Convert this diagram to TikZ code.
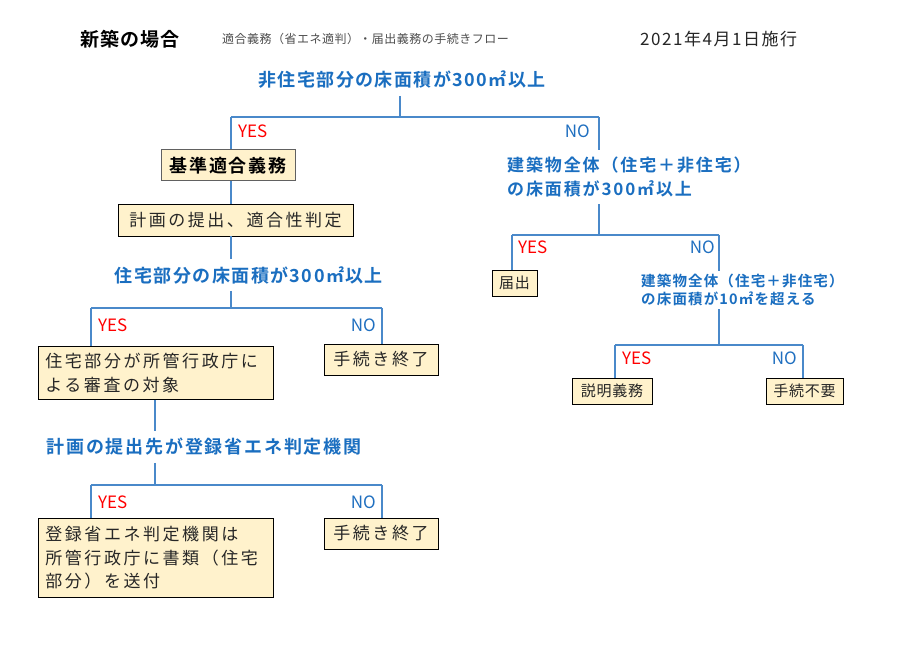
\documentclass[tikz,border=0pt]{standalone}
\usepackage{fontspec}
\setmainfont{Noto Sans CJK JP}[BoldFont={Noto Sans CJK JP Bold}]
\definecolor{lineblue}{HTML}{4A89CA}
\definecolor{headblue}{HTML}{1A6EC0}
\definecolor{noblue}{HTML}{1F6FC0}
\definecolor{boxfill}{HTML}{FFF2CC}
\definecolor{boxtext}{HTML}{262626}
\definecolor{subgray}{HTML}{4D4D4D}
\begin{document}
\begin{tikzpicture}[x=1pt,y=-1pt,
  ln/.style={draw=lineblue, line width=1.1pt},
  head/.style={text=headblue, inner xsep=0pt, inner ysep=7pt,
    font=\fontsize{18}{20}\selectfont\bfseries\addfontfeature{LetterSpace=8}},
  box/.style={draw=black, line width=0.8pt, fill=boxfill, text=boxtext,
    inner xsep=7pt, inner ysep=0pt,
    font=\fontsize{17}{24.5}\selectfont\addfontfeature{LetterSpace=15}},
  sbox/.style={box, inner xsep=5pt,
    font=\fontsize{15}{18}\selectfont\addfontfeature{LetterSpace=5}},
  yes/.style={text=red, inner sep=0pt, font=\fontsize{17}{17}\selectfont},
  no/.style={text=noblue, inner sep=0pt, font=\fontsize{17}{17}\selectfont}]
\fill[white] (0,0) rectangle (900,652);
\useasboundingbox (0,0) rectangle (900,652);

% header
\node[anchor=west, inner sep=0pt, font=\fontsize{19}{19}\selectfont\bfseries\addfontfeature{LetterSpace=6}] (title) at (80,39) {新築の場合};
\node[anchor=west, inner sep=0pt, text=subgray, font=\fontsize{12}{12}\selectfont\addfontfeature{LetterSpace=4}] (sub) at (222,39) {適合義務（省エネ適判）・届出義務の手続きフロー};
\node[anchor=west, inner sep=0pt, text=boxtext, font=\fontsize{17}{17}\selectfont\addfontfeature{LetterSpace=9}] (date) at (640,39) {2021年4月1日施行};

% headings
\node[head] (h1) at (402,80) {非住宅部分の床面積が300㎡以上};
\node[head] (h3) at (249,275) {住宅部分の床面積が300㎡以上};
\node[head, font=\fontsize{18}{20}\selectfont\bfseries\addfontfeature{LetterSpace=10}] (h4) at (204,447) {計画の提出先が登録省エネ判定機関};
\node[head, anchor=west, align=left, font=\fontsize{17}{24}\selectfont\bfseries\addfontfeature{LetterSpace=11}] (h2) at (507,177) {建築物全体（住宅＋非住宅）\\の床面積が300㎡以上};
\node[head, anchor=west, align=left, inner ysep=3pt, font=\fontsize{14.5}{18}\selectfont\bfseries\addfontfeature{LetterSpace=8}] (h5) at (641,290) {建築物全体（住宅＋非住宅）\\の床面積が10㎡を超える};

% boxes
\node[box, draw=black!62, line width=1pt, minimum width=134pt, minimum height=31pt,
  font=\fontsize{18}{20}\selectfont\bfseries\addfontfeature{LetterSpace=10}, text=black] (kijun) at (228,165.5) {基準適合義務};
\node[box, minimum width=235pt, minimum height=32pt] (keikaku) at (235.5,220) {計画の提出、適合性判定};
\node[box, anchor=north west, text width=221pt, align=left, minimum height=53pt] (jutaku) at (38,346) {住宅部分が所管行政庁に\\よる審査の対象};
\node[box, minimum width=114pt, minimum height=31pt] (end1) at (381,359.5) {手続き終了};
\node[box, anchor=north west, text width=221pt, align=left, minimum height=79pt,
  font=\fontsize{17}{23.5}\selectfont\addfontfeature{LetterSpace=15}] (toroku) at (38,518) {登録省エネ判定機関は\\所管行政庁に書類（住宅\\部分）を送付};
\node[box, minimum width=114pt, minimum height=31pt] (end2) at (381,533.5) {手続き終了};
\node[sbox, minimum width=45pt, minimum height=26pt] (todokede) at (514.5,283) {届出};
\node[sbox, minimum width=80pt, minimum height=26pt] (setsumei) at (612,391) {説明義務};
\node[sbox, minimum width=77pt, minimum height=26pt] (fuyou) at (804.5,391) {手続不要};

% junctions
\coordinate (J1) at (400,117);
\coordinate (Y1) at (231,117);
\coordinate (N1) at (599,117);
\coordinate (J3) at (231,308);
\coordinate (Y3) at (91,308);
\coordinate (N3) at (382,308);
\coordinate (J4) at (155,485);
\coordinate (Y4) at (91,485);
\coordinate (N4) at (382,485);
\coordinate (J2) at (599,235);
\coordinate (Y2) at (512,235);
\coordinate (N2) at (719,235);
\coordinate (J5) at (719,345);
\coordinate (Y5) at (615,345);
\coordinate (N5) at (803,345);

% connectors left
\draw[ln] (h1.south -| J1) -- (J1);
\draw[ln] (Y1) -- (N1);
\draw[ln] (Y1) -- (kijun.north -| Y1);
\draw[ln] (kijun.south -| Y1) -- (keikaku.north -| Y1);
\draw[ln] (keikaku.south -| Y1) -- (h3.north -| Y1);
\draw[ln] (h3.south -| J3) -- (J3);
\draw[ln] (Y3) -- (N3);
\draw[ln] (Y3) -- (jutaku.north -| Y3);
\draw[ln] (N3) -- (end1.north -| N3);
\draw[ln] (jutaku.south -| J4) -- (h4.north -| J4);
\draw[ln] (h4.south -| J4) -- (J4);
\draw[ln] (Y4) -- (N4);
\draw[ln] (Y4) -- (toroku.north -| Y4);
\draw[ln] (N4) -- (end2.north -| N4);
% connectors right
\draw[ln] (N1) -- (h2.north -| N1);
\draw[ln] (h2.south -| J2) -- (J2);
\draw[ln] (Y2) -- (N2);
\draw[ln] (Y2) -- (todokede.north -| Y2);
\draw[ln] (N2) -- (h5.north -| N2);
\draw[ln] (h5.south -| J5) -- (J5);
\draw[ln] (Y5) -- (N5);
\draw[ln] (Y5) -- (setsumei.north -| Y5);
\draw[ln] (N5) -- (fuyou.north -| N5);

% labels
\node[yes, anchor=west] (y1) at (238,131) {YES};
\node[no, anchor=east] (n1) at (590,131) {NO};
\node[yes, anchor=west] (y3) at (98,325) {YES};
\node[no, anchor=east] (n3) at (376,325) {NO};
\node[yes, anchor=west] (y4) at (98,502) {YES};
\node[no, anchor=east] (n4) at (376,502) {NO};
\node[yes, anchor=west] (y2) at (518,247) {YES};
\node[no, anchor=east] (n2) at (715,247) {NO};
\node[yes, anchor=west] (y5) at (622,358) {YES};
\node[no, anchor=east] (n5) at (797,358) {NO};
\end{tikzpicture}
\end{document}
